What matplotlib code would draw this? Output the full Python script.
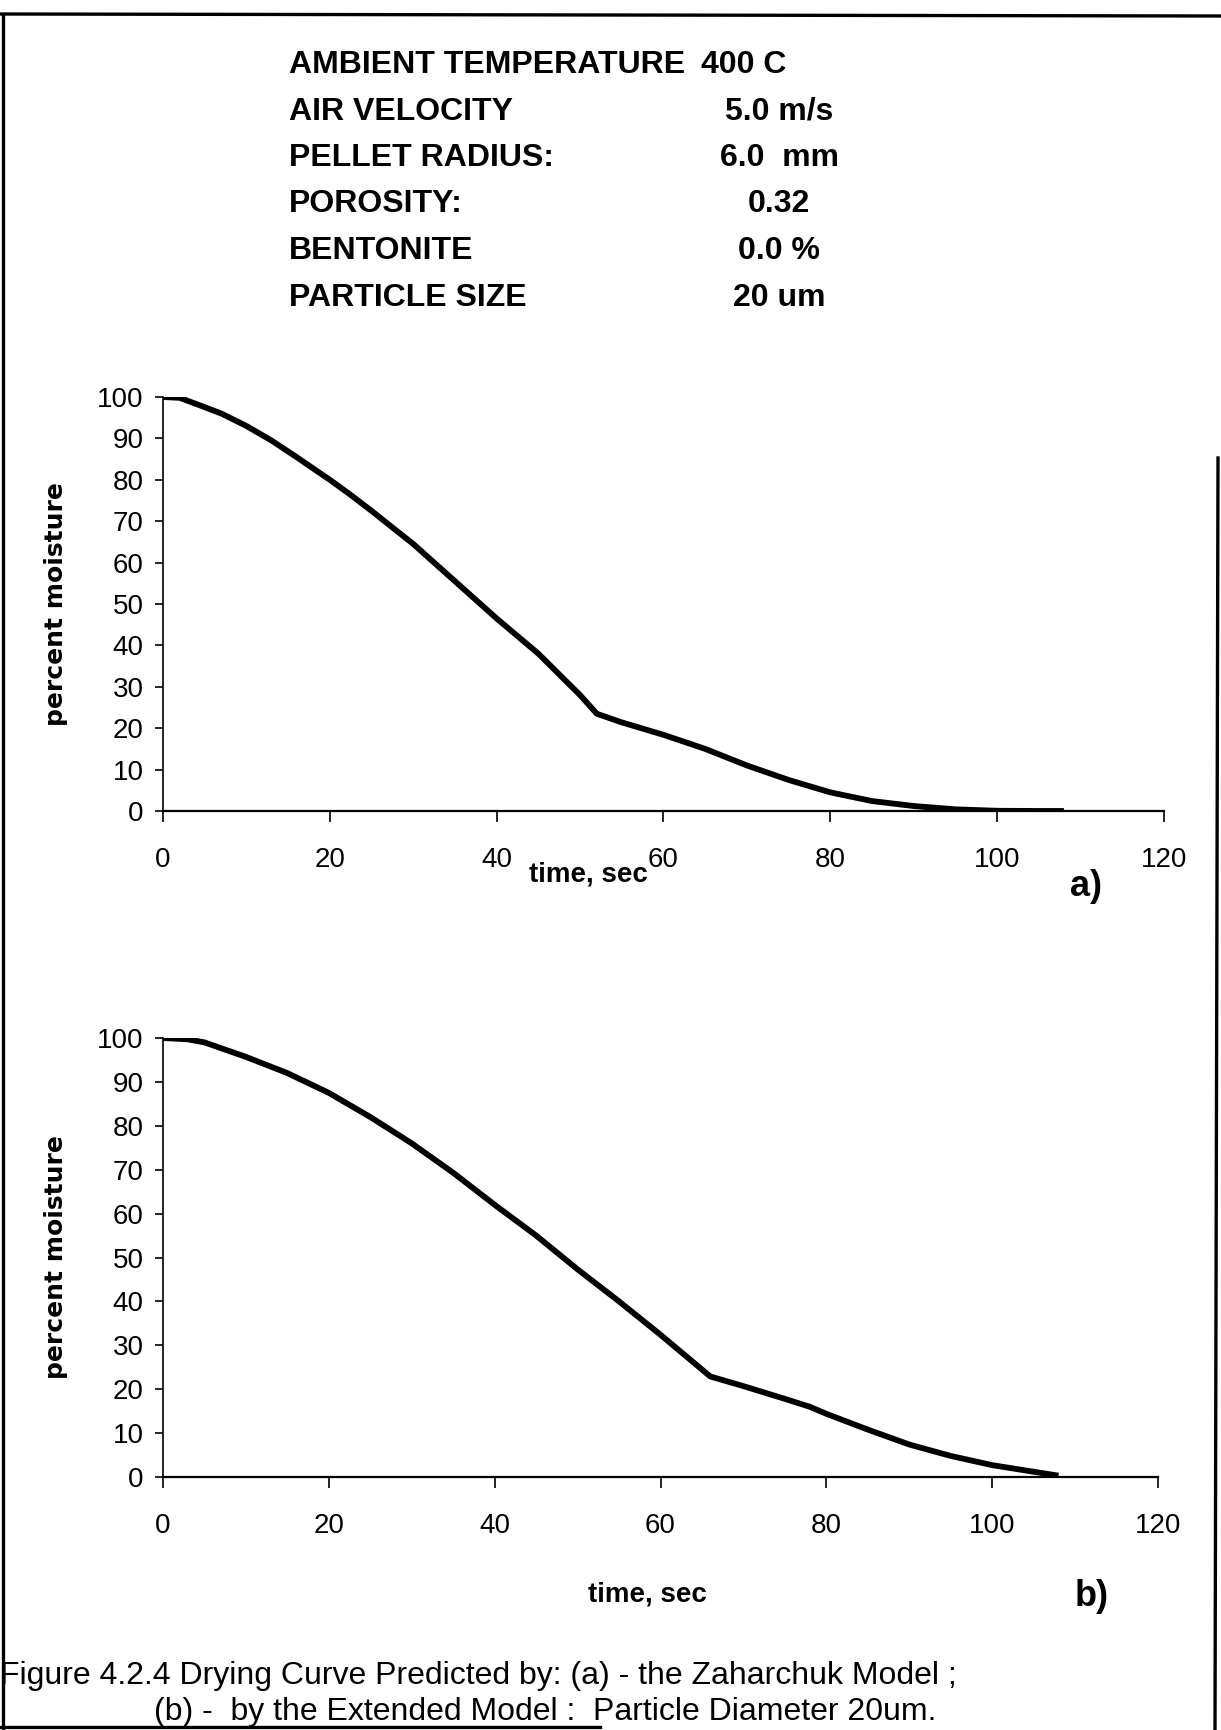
import matplotlib.pyplot as plt
from matplotlib.lines import Line2D

plt.rcParams['font.family'] = ['Liberation Sans', 'DejaVu Sans']

# Conditions listed above the plots
param_names = ['AMBIENT TEMPERATURE', 'AIR VELOCITY', 'PELLET RADIUS:', 'POROSITY:', 'BENTONITE', 'PARTICLE SIZE']
param_values = ['400 C', '5.0 m/s', '6.0  mm', '0.32', '0.0 %', '20 um']

# (a) Zaharchuk model
time_a = [0, 2, 4.4, 7, 10, 13, 16, 20, 22.4, 25, 30, 35, 40, 45, 50, 52, 55, 60, 65, 70, 75, 80, 85, 90, 95, 100, 105, 108]
moist_a = [100, 99.8, 98, 96, 93, 89.5, 85.5, 80, 76.5, 72.5, 64.5, 55.5, 46.5, 38, 28, 23.5, 21.4, 18.4, 15, 11, 7.5, 4.5, 2.4, 1.2, 0.4, 0.05, 0, 0]

# (b) Extended model
time_b = [0, 3, 5, 10, 15, 20, 25, 30, 35, 40, 45, 50, 55, 60, 66, 70, 75, 78, 80, 85, 90, 95, 100, 105, 108]
moist_b = [100, 99.7, 99, 95.7, 92, 87.5, 82, 76, 69.3, 62, 55, 47.3, 40, 32.4, 22.9, 20.7, 17.8, 16, 14.4, 10.8, 7.4, 4.8, 2.7, 1.2, 0.3]

xticks = [0, 20, 40, 60, 80, 100, 120]
yticks = list(range(0, 101, 10))

fig = plt.figure(figsize=(12.21, 17.30), dpi=100)

# header block
for i, (name, val) in enumerate(zip(param_names, param_values)):
    y = 1 - (65 + i * 46.5) / 1730
    fig.text(289 / 1221, y, name, fontsize=23, fontweight='bold', va='center', ha='left')
    if i == 0:
        fig.text(701 / 1221, y, val, fontsize=23, fontweight='bold', va='center', ha='left')
    else:
        fig.text(779 / 1221, y, val, fontsize=23, fontweight='bold', va='center', ha='center')


def style_axes(ax):
    ax.set_xlim(0, 120)
    ax.set_ylim(0, 100)
    ax.set_xticks(xticks)
    ax.set_yticks(yticks)
    ax.spines['top'].set_visible(False)
    ax.spines['right'].set_visible(False)
    ax.spines['left'].set_linewidth(1.2)
    ax.spines['bottom'].set_linewidth(1.6)
    ax.tick_params(axis='y', direction='out', length=6, width=1.2, labelsize=20, pad=8)
    ax.tick_params(axis='x', direction='out', length=8, width=1.2, labelsize=20, pad=18)
    ax.set_ylabel('percent moisture', fontsize=18, fontweight='bold', family='DejaVu Sans')
    ax.yaxis.set_label_coords(-0.095, 0.5)


ax1 = fig.add_axes([163 / 1221, 1 - 811 / 1730, 1001 / 1221, 414 / 1730])
ax1.plot(time_a, moist_a, color='black', lw=4.2, solid_capstyle='butt')
style_axes(ax1)
fig.text(588 / 1221, 1 - 874 / 1730, 'time, sec', fontsize=20, fontweight='bold', ha='center', va='center')
fig.text(1086 / 1221, 1 - 886 / 1730, 'a)', fontsize=26, fontweight='bold', ha='center', va='center')

ax2 = fig.add_axes([163 / 1221, 1 - 1477 / 1730, 995 / 1221, 439 / 1730])
ax2.plot(time_b, moist_b, color='black', lw=4.2, solid_capstyle='butt')
style_axes(ax2)
fig.text(647 / 1221, 1 - 1594 / 1730, 'time, sec', fontsize=20, fontweight='bold', ha='center', va='center')
fig.text(1092 / 1221, 1 - 1597 / 1730, 'b)', fontsize=26, fontweight='bold', ha='center', va='center')

# caption
fig.text(0, 1 - 1676 / 1730, 'Figure 4.2.4 Drying Curve Predicted by: (a) - the Zaharchuk Model ;',
         fontsize=23, ha='left', va='center')
fig.text(545 / 1221, 1 - 1712 / 1730, '(b) -  by the Extended Model :  Particle Diameter 20um.',
         fontsize=23, ha='center', va='center')

# page frame lines from the scanned page
W, H = 1221, 1730
frame = [
    ([3, 3], [15, 1730]),
    ([0, 1221], [14, 16]),
    ([1218, 1215], [458, 1730]),
    ([0, 600], [1727, 1727]),
]
for xs, ys in frame:
    fig.add_artist(Line2D([x / W for x in xs], [1 - y / H for y in ys], color='black', lw=2.4))

fig.savefig('out.png', dpi=100)
